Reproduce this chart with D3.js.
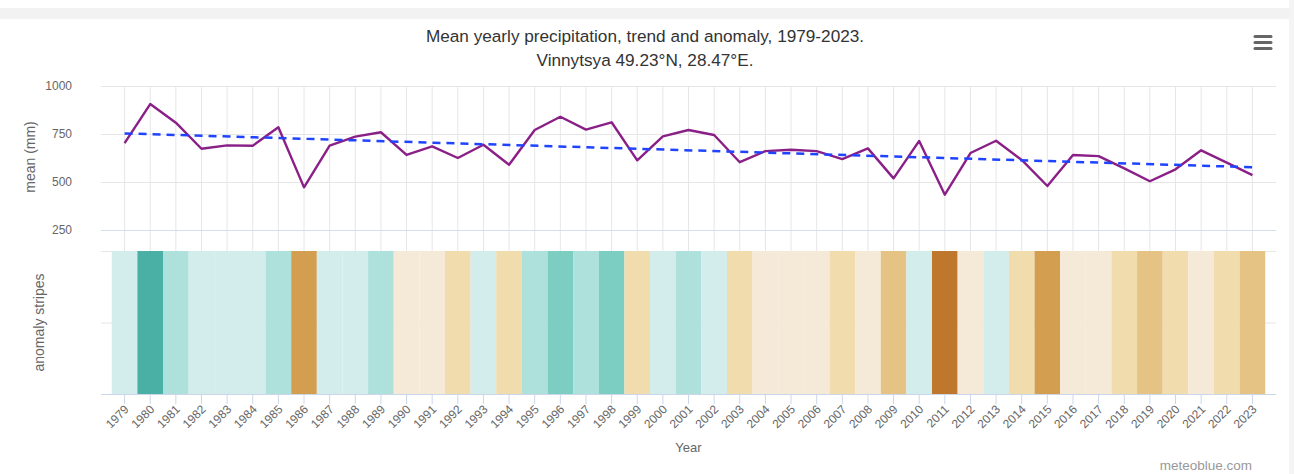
<!DOCTYPE html>
<html>
<head>
<meta charset="utf-8">
<title>Mean yearly precipitation</title>
<script src="https://cdn.jsdelivr.net/npm/d3@7/dist/d3.min.js"></script>
<style>
  body { margin: 0; background: #fff; }
  svg { display: block; font-family: "Liberation Sans", Arial, sans-serif; }
</style>
</head>
<body>
<svg width="1294" height="474" id="mainsvg"></svg>
<script>
const years = [1979, 1980, 1981, 1982, 1983, 1984, 1985, 1986, 1987, 1988, 1989,
  1990, 1991, 1992, 1993, 1994, 1995, 1996, 1997, 1998, 1999, 2000, 2001, 2002,
  2003, 2004, 2005, 2006, 2007, 2008, 2009, 2010, 2011, 2012, 2013, 2014, 2015,
  2016, 2017, 2018, 2019, 2020, 2021, 2022, 2023];
// mean yearly precipitation (mm)
const precip = [702, 906, 809, 673, 691, 689, 785, 472, 689, 736, 759,
  641, 686, 625, 694, 590, 771, 840, 773, 811, 613, 738, 771, 745,
  603, 661, 668, 661, 619, 675, 519, 714, 434, 651, 715, 615, 479,
  641, 635, 571, 504, 566, 665, 601, 536];
// linear trend, first and last year
const trendYears = [1979, 2023];
const trendValues = [753, 577];
// anomaly class of each stripe (negative = drier)
const anomalyClass = [0, 3, 1, 0, 0, 0, 1, -4, 0, 0, 1,
  -1, -1, -2, 0, -2, 1, 2, 1, 2, -2, 0, 1, 0,
  -2, -1, -1, -1, -2, -1, -3, 0, -5, -1, 0, -2, -4,
  -1, -1, -2, -3, -2, -1, -2, -3];
const yTicks = [250, 500, 750, 1000];

const svg = d3.select('#mainsvg');
const width = +svg.attr('width');

const plotLeft = 101, plotRight = 1276;
const topPane = { top: 86, bottom: 230 };
const stripePane = { top: 251, bottom: 394 };

// background bits of the page
svg.append('rect').attr('x', 0).attr('y', 8).attr('width', width).attr('height', 11).attr('fill', '#f2f2f2');
svg.append('rect').attr('x', 1289).attr('y', 0).attr('width', 5).attr('height', 474).attr('fill', '#f4f4f4');

const xScale = d3.scaleBand()
  .domain(years)
  .range([plotLeft, plotRight])
  .paddingInner(0)
  .paddingOuter(0.42);
const xc = d => xScale(d) + xScale.bandwidth() / 2;

const yScale = d3.scaleLinear().domain([250, 1000]).range([topPane.bottom, topPane.top]);
const yStripe = d3.scaleLinear().domain([0, 2]).range([stripePane.bottom, stripePane.top]);

const color = d3.scaleOrdinal()
  .domain([3, 2, 1, 0, -1, -2, -3, -4, -5])
  .range(['#4aafa5', '#7ccdc2', '#aee0dc', '#d3ecec', '#f5ead8', '#f1dcae', '#e5c385', '#d39e50', '#bf772e']);

const g = svg.append('g');

// vertical grid lines
g.append('g').selectAll('line').data(years).join('line')
  .attr('x1', xc).attr('x2', xc)
  .attr('y1', topPane.top).attr('y2', stripePane.bottom)
  .attr('stroke', '#e6e6e6').attr('stroke-width', 1);

// top pane y axis
const yAxis = d3.axisLeft(yScale)
  .tickValues(yTicks)
  .tickSize(-(plotRight - plotLeft))
  .tickPadding(29)
  .tickFormat(d3.format('d'));
const yAxisGroup = g.append('g').attr('transform', `translate(${plotLeft},0)`).call(yAxis);
yAxisGroup.select('.domain').remove();
yAxisGroup.selectAll('line').attr('stroke', d => d === 250 ? '#d5deee' : '#e6e6e6');
yAxisGroup.selectAll('text').attr('fill', '#666').attr('font-size', 12)
  .attr('font-family', '"Liberation Sans", Arial, sans-serif');

// stripes pane grid
const sAxis = d3.axisLeft(yStripe).tickValues([1, 2]).tickSize(-(plotRight - plotLeft)).tickFormat('');
const sAxisGroup = g.append('g').attr('transform', `translate(${plotLeft},0)`).call(sAxis);
sAxisGroup.select('.domain').remove();
sAxisGroup.selectAll('line').attr('stroke', '#e6e6e6');

// anomaly stripes
g.append('g').selectAll('rect').data(years).join('rect')
  .attr('x', d => xScale(d))
  .attr('y', yStripe(2))
  .attr('width', xScale.bandwidth())
  .attr('height', yStripe(0) - yStripe(2))
  .attr('fill', (d, i) => color(anomalyClass[i]));

// x axis
const xAxis = d3.axisBottom(xScale).tickSizeOuter(0).tickSize(10).tickPadding(4);
const xAxisGroup = g.append('g').attr('transform', `translate(0,${stripePane.bottom})`).call(xAxis);
xAxisGroup.select('.domain').attr('stroke', '#ccd6eb')
  .attr('d', `M${plotLeft},0.5H${plotRight}`);
xAxisGroup.selectAll('.tick line').attr('stroke', '#ccd6eb');
xAxisGroup.selectAll('.tick text')
  .attr('fill', '#666').attr('font-size', 12)
  .attr('font-family', '"Liberation Sans", Arial, sans-serif')
  .attr('text-anchor', 'end')
  .attr('dy', null)
  .attr('x', 5).attr('y', 16)
  .attr('transform', 'rotate(-45 5 16)');

// precipitation line
g.append('path')
  .datum(precip)
  .attr('fill', 'none')
  .attr('stroke', '#8a1f87')
  .attr('stroke-width', 2.4)
  .attr('stroke-linejoin', 'round')
  .attr('d', d3.line().x((d, i) => xc(years[i])).y(d => yScale(d)));

// trend line
g.append('path')
  .datum(trendValues)
  .attr('fill', 'none')
  .attr('stroke', '#1f43ff')
  .attr('stroke-width', 2.5)
  .attr('stroke-dasharray', '8,6')
  .attr('d', d3.line().x((d, i) => xc(trendYears[i])).y(d => yScale(d)));

// titles
svg.append('text').attr('x', 645).attr('y', 42).attr('text-anchor', 'middle')
  .attr('fill', '#333').attr('font-size', 17.2)
  .text('Mean yearly precipitation, trend and anomaly, 1979-2023.');
svg.append('text').attr('x', 645).attr('y', 66).attr('text-anchor', 'middle')
  .attr('fill', '#333').attr('font-size', 17.2)
  .text('Vinnytsya 49.23°N, 28.47°E.');

svg.append('text')
  .attr('transform', 'translate(35,157) rotate(-90)')
  .attr('text-anchor', 'middle').attr('fill', '#666').attr('font-size', 14)
  .text('mean (mm)');
svg.append('text')
  .attr('transform', `translate(44,${(stripePane.top + stripePane.bottom) / 2}) rotate(-90)`)
  .attr('text-anchor', 'middle').attr('fill', '#666').attr('font-size', 14)
  .text('anomaly stripes');
svg.append('text').attr('x', (plotLeft + plotRight) / 2).attr('y', 452)
  .attr('text-anchor', 'middle').attr('fill', '#666').attr('font-size', 13)
  .text('Year');
svg.append('text').attr('x', 1252).attr('y', 470)
  .attr('text-anchor', 'end').attr('fill', '#999').attr('font-size', 13.5)
  .text('meteoblue.com');

// menu icon
svg.append('g').selectAll('line').data([36.5, 42.5, 48.5]).join('line')
  .attr('x1', 1255).attr('x2', 1271).attr('y1', d => d).attr('y2', d => d)
  .attr('stroke', '#666').attr('stroke-width', 3).attr('stroke-linecap', 'round');
</script>
</body>
</html>
